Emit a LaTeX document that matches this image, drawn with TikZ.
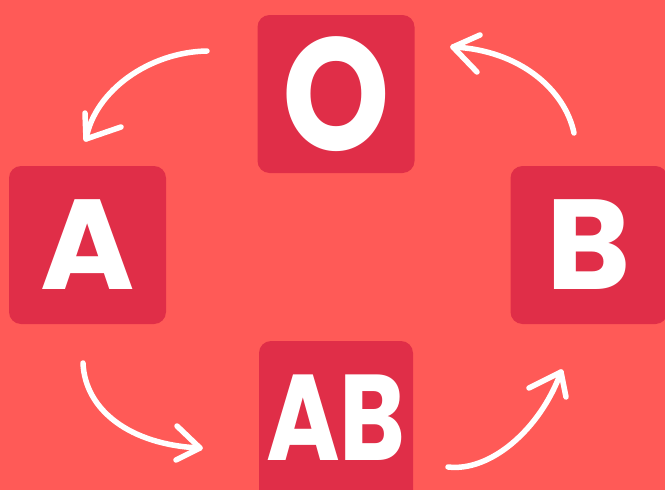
\documentclass[tikz,border=0pt]{standalone}
\usepackage{fontspec}
\newfontfamily\pop{Poppins}
\definecolor{bg}{RGB}{255,90,87}
\definecolor{boxred}{RGB}{224,46,72}
\begin{document}
\begin{tikzpicture}[x=1pt,y=-1pt,
  blood/.style={fill=boxred, rounded corners=12pt, minimum width=157pt, minimum height=158pt, inner sep=0pt, text=white, font=\pop\bfseries\fontsize{128}{128}\selectfont},
  letter/.style={inner sep=0pt, text=white, font=\pop\bfseries\fontsize{122}{122}\selectfont},
  swoosh/.style={draw=white, line width=5.5pt, line cap=round, line join=round}]
\fill[bg] (0,0) rectangle (665,490);
\useasboundingbox (0,0) rectangle (665,490);
\node[blood] (O) at (336,94) {\scalebox{1.07}[1.25]{O}};
\node[blood] (A) at (87.5,245) {A};
\node[blood] (B) at (589,245) {B};
\fill[boxred, rounded corners=12pt] (259,341) rectangle (413,505);
\node[letter] (AB) at (336,418) {\scalebox{0.82}[1]{AB}};
% arrow O -> A
\coordinate (s1) at (207,51); \coordinate (t1) at (86,139);
\coordinate (b1a) at (85,113); \coordinate (b1b) at (121,127);
\draw[swoosh] (s1) .. controls (150,52) and (95,90) .. (t1);
\draw[swoosh] (b1a) -- (t1) -- (b1b);
% arrow B -> O
\coordinate (s2) at (574,133); \coordinate (t2) at (453,47);
\coordinate (b2a) at (480,35); \coordinate (b2b) at (477,72);
\draw[swoosh] (s2) .. controls (565,90) and (520,50) .. (t2);
\draw[swoosh] (b2a) -- (t2) -- (b2b);
% arrow A -> AB
\coordinate (s3) at (83,363); \coordinate (t3) at (200,448);
\coordinate (b3a) at (177,426); \coordinate (b3b) at (176,460);
\draw[swoosh] (s3) .. controls (85,410) and (130,445) .. (t3);
\draw[swoosh] (b3a) -- (t3) -- (b3b);
% arrow AB -> B
\coordinate (s4) at (448,467); \coordinate (t4) at (561,372);
\coordinate (b4a) at (529,388); \coordinate (b4b) at (566,397);
\draw[swoosh] (s4) .. controls (490,472) and (540,430) .. (t4);
\draw[swoosh] (b4a) -- (t4) -- (b4b);
\end{tikzpicture}
\end{document}
